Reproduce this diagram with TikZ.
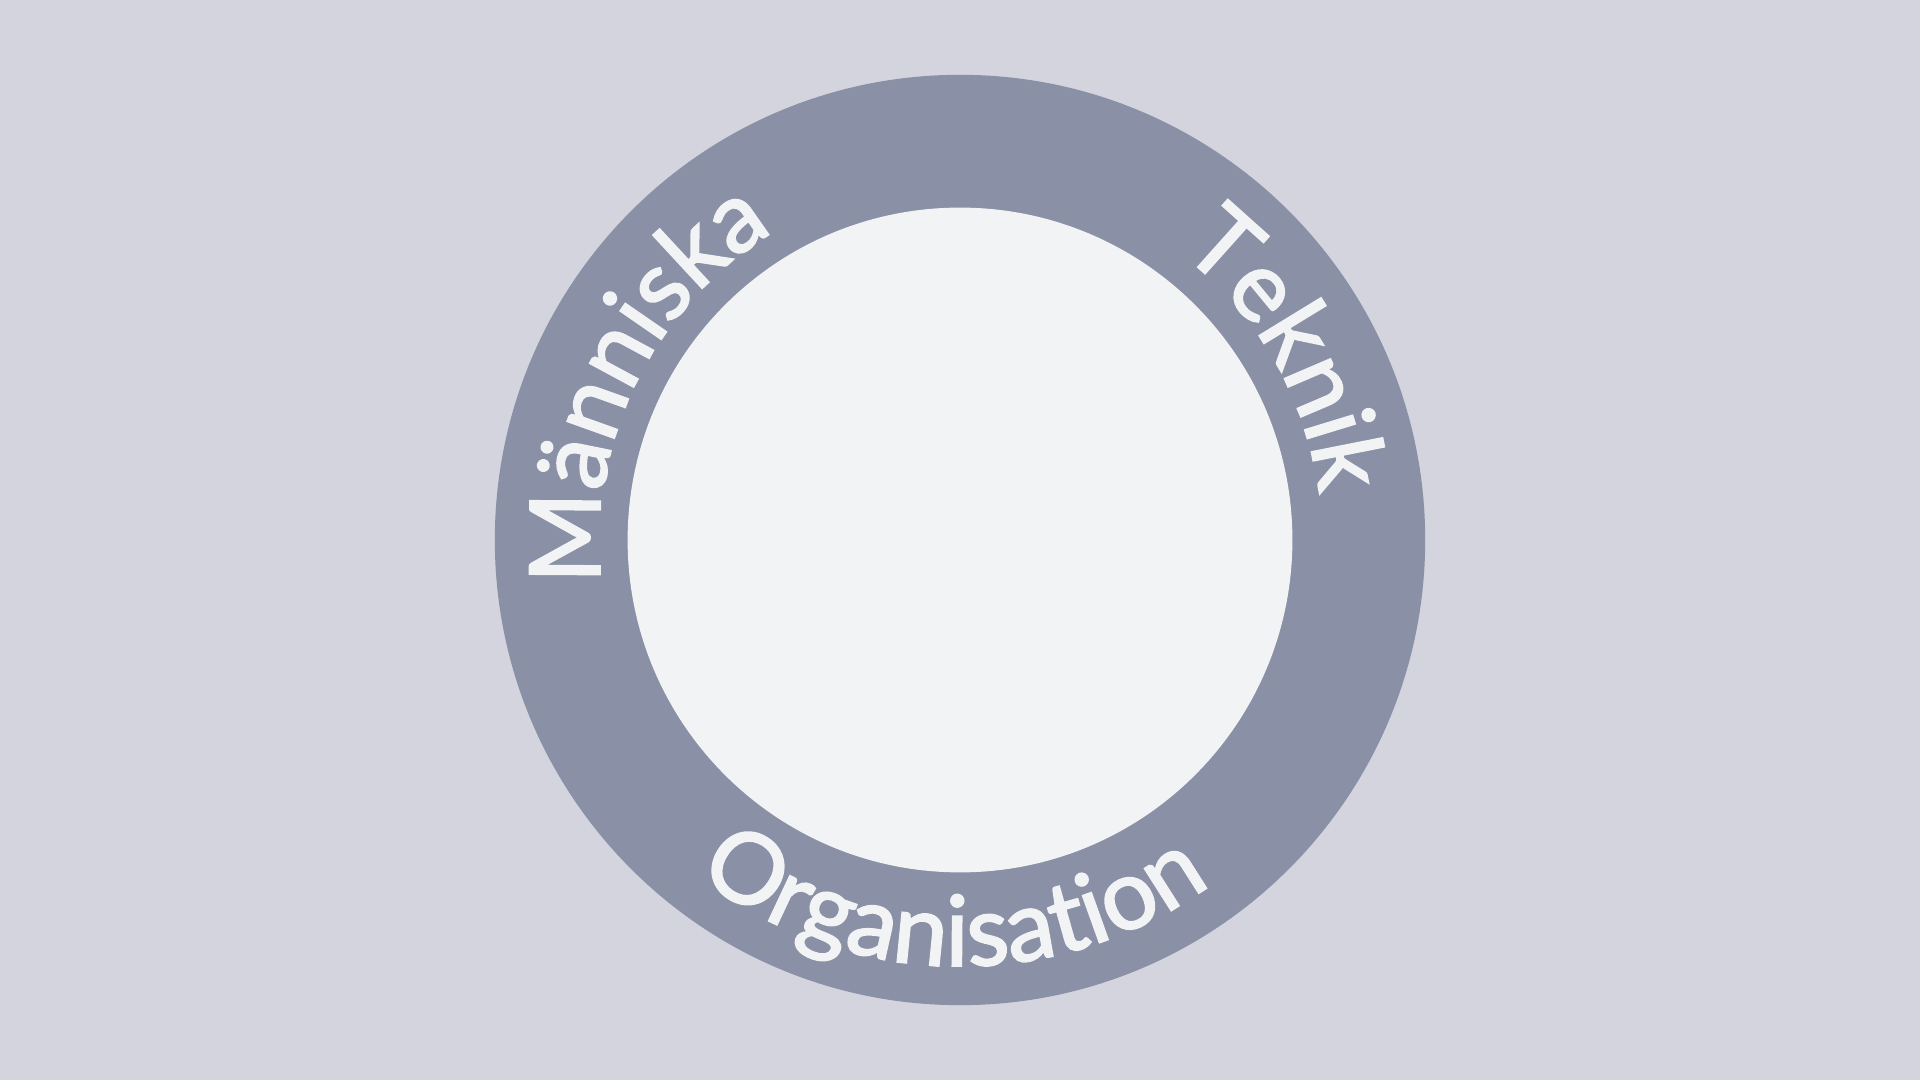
\documentclass[tikz,border=0pt]{standalone}
\usepackage{fontspec}
\newfontfamily\ringfam{Lato}[RawFeature={embolden=2}]
\usetikzlibrary{decorations.text}
\definecolor{bgc}{HTML}{D3D4DE}
\definecolor{ringc}{HTML}{8A90A5}
\definecolor{innerc}{HTML}{F2F3F5}
\definecolor{txtc}{HTML}{F2F3F5}
\tikzset{
  ringlabel/.style={decorate, decoration={text along path, text align=center, text={#1}}}
}
\newcommand{\ringfont}{\color{txtc}\ringfam\fontsize{49}{60}\selectfont}
\begin{document}
\begin{tikzpicture}[x=1pt,y=1pt]
  \useasboundingbox (0,0) rectangle (960,540);
  \fill[bgc] (0,0) rectangle (960,540);
  \coordinate (c) at (480,270);
  \fill[ringc] (c) circle[radius=232.6];
  \fill[innerc] (c) circle[radius=166.2];
  % Människa (clockwise, tops outward)
  \path[ringlabel={|\ringfont|Människa}] (c) ++(204:180) arc[start angle=204, end angle=104, radius=180];
  % Teknik
  \path[ringlabel={|\ringfont|Teknik}] (c) ++(80:181) arc[start angle=80, end angle=-20, radius=181];
  % Organisation (counterclockwise, tops inward)
  \path[ringlabel={|\ringfont|Organisation}] (c) ++(214:213) arc[start angle=214, end angle=324, radius=213];
\end{tikzpicture}
\end{document}
